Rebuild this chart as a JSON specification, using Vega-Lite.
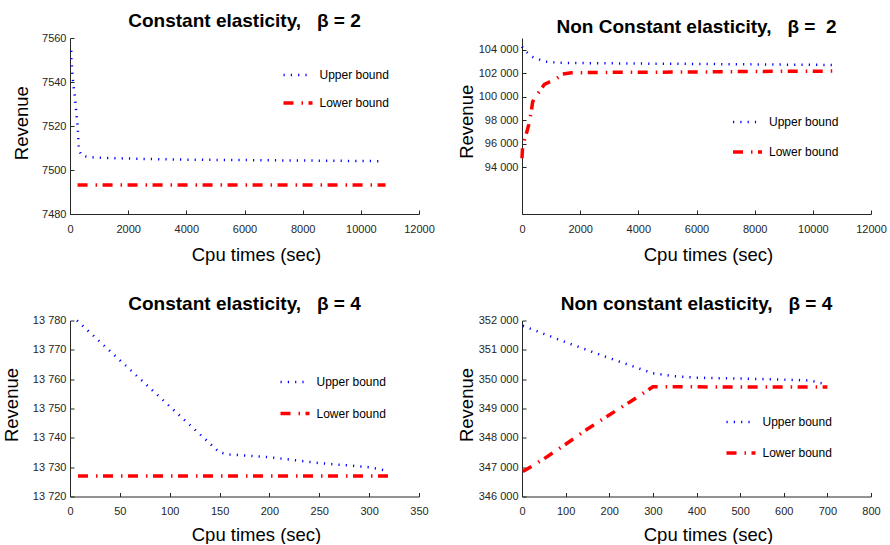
{
  "$schema": "https://vega.github.io/schema/vega-lite/v6.json",
  "padding": {"left": 2, "top": 12, "right": 0, "bottom": 0},
  "bounds": "flush",
  "spacing": {"row": 106.5, "column": 103},
  "columns": 2,
  "config": {
    "font": "Liberation Sans",
    "view": {"stroke": null},
    "axis": {
      "grid": false,
      "domainColor": "#262626",
      "tickColor": "#262626",
      "labelColor": "#262626",
      "labelFontSize": 11,
      "labelFont": "Liberation Sans",
      "titleFont": "Liberation Sans",
      "titleFontSize": 18.5,
      "titleFontWeight": "normal",
      "titleColor": "#000000",
      "tickSize": -4,
      "labelFlush": false,
      "labelOverlap": false
    },
    "axisX": {"labelPadding": 13, "titleBaseline": "alphabetic", "titleX": 186},
    "axisY": {"labelPadding": 8, "titleBaseline": "alphabetic", "titleAngle": 270, "titleY": 84},
    "title": {"font": "Liberation Sans", "fontSize": 19, "fontWeight": "bold", "color": "#000000", "baseline": "alphabetic", "offset": 1},
    "legend": {"title": null, "orient": "none", "symbolType": "stroke", "symbolSize": 841, "labelFontSize": 12, "labelFont": "Liberation Sans", "labelColor": "#000000", "labelOffset": 5, "padding": 0, "clipHeight": 16}
  },
  "resolve": {"scale": {"color": "independent", "strokeDash": "independent", "strokeWidth": "independent", "x": "independent", "y": "independent"}},
  "datasets": {
    "p1": [
      {"t": 40, "rev": 7554.2, "series": "Upper bound"},
      {"t": 42, "rev": 7551.2, "series": "Upper bound"},
      {"t": 62, "rev": 7548, "series": "Upper bound"},
      {"t": 76, "rev": 7544.7, "series": "Upper bound"},
      {"t": 96, "rev": 7541.4, "series": "Upper bound"},
      {"t": 120, "rev": 7538.2, "series": "Upper bound"},
      {"t": 155, "rev": 7535, "series": "Upper bound"},
      {"t": 179, "rev": 7531.7, "series": "Upper bound"},
      {"t": 199, "rev": 7528.5, "series": "Upper bound"},
      {"t": 223, "rev": 7525, "series": "Upper bound"},
      {"t": 248, "rev": 7522, "series": "Upper bound"},
      {"t": 268, "rev": 7518.6, "series": "Upper bound"},
      {"t": 282, "rev": 7515.5, "series": "Upper bound"},
      {"t": 292, "rev": 7512, "series": "Upper bound"},
      {"t": 302, "rev": 7509, "series": "Upper bound"},
      {"t": 420, "rev": 7506.4, "series": "Upper bound"},
      {"t": 700, "rev": 7505.8, "series": "Upper bound"},
      {"t": 1000, "rev": 7505.6, "series": "Upper bound"},
      {"t": 2000, "rev": 7505.2, "series": "Upper bound"},
      {"t": 3000, "rev": 7504.9, "series": "Upper bound"},
      {"t": 4000, "rev": 7504.7, "series": "Upper bound"},
      {"t": 5000, "rev": 7504.6, "series": "Upper bound"},
      {"t": 6000, "rev": 7504.5, "series": "Upper bound"},
      {"t": 7000, "rev": 7504.4, "series": "Upper bound"},
      {"t": 8000, "rev": 7504.3, "series": "Upper bound"},
      {"t": 9000, "rev": 7504.2, "series": "Upper bound"},
      {"t": 10000, "rev": 7504.1, "series": "Upper bound"},
      {"t": 10800, "rev": 7504, "series": "Upper bound"},
      {"t": 260, "rev": 7493.2, "series": "Lower bound"},
      {"t": 10850, "rev": 7493.2, "series": "Lower bound"}
    ],
    "p2": [
      {"t": 0, "rev": 104260, "series": "Upper bound"},
      {"t": 50, "rev": 104040, "series": "Upper bound"},
      {"t": 350, "rev": 103400, "series": "Upper bound"},
      {"t": 570, "rev": 103180, "series": "Upper bound"},
      {"t": 800, "rev": 102980, "series": "Upper bound"},
      {"t": 1050, "rev": 102930, "series": "Upper bound"},
      {"t": 1500, "rev": 102880, "series": "Upper bound"},
      {"t": 2500, "rev": 102850, "series": "Upper bound"},
      {"t": 4000, "rev": 102820, "series": "Upper bound"},
      {"t": 6000, "rev": 102790, "series": "Upper bound"},
      {"t": 8000, "rev": 102750, "series": "Upper bound"},
      {"t": 10700, "rev": 102700, "series": "Upper bound"},
      {"t": 0, "rev": 94750, "series": "Lower bound"},
      {"t": 20, "rev": 95700, "series": "Lower bound"},
      {"t": 80, "rev": 96300, "series": "Lower bound"},
      {"t": 140, "rev": 96750, "series": "Lower bound"},
      {"t": 230, "rev": 97600, "series": "Lower bound"},
      {"t": 310, "rev": 98600, "series": "Lower bound"},
      {"t": 365, "rev": 99550, "series": "Lower bound"},
      {"t": 460, "rev": 100000, "series": "Lower bound"},
      {"t": 600, "rev": 100450, "series": "Lower bound"},
      {"t": 770, "rev": 101050, "series": "Lower bound"},
      {"t": 940, "rev": 101250, "series": "Lower bound"},
      {"t": 1170, "rev": 101500, "series": "Lower bound"},
      {"t": 1400, "rev": 101930, "series": "Lower bound"},
      {"t": 1700, "rev": 102040, "series": "Lower bound"},
      {"t": 3000, "rev": 102070, "series": "Lower bound"},
      {"t": 6000, "rev": 102100, "series": "Lower bound"},
      {"t": 8000, "rev": 102150, "series": "Lower bound"},
      {"t": 10700, "rev": 102180, "series": "Lower bound"}
    ],
    "p3": [
      {"t": 7, "rev": 13780, "series": "Upper bound"},
      {"t": 150, "rev": 13735, "series": "Upper bound"},
      {"t": 160, "rev": 13734.3, "series": "Upper bound"},
      {"t": 200, "rev": 13733.4, "series": "Upper bound"},
      {"t": 250, "rev": 13731.4, "series": "Upper bound"},
      {"t": 300, "rev": 13730, "series": "Upper bound"},
      {"t": 315, "rev": 13729, "series": "Upper bound"},
      {"t": 8, "rev": 13727, "series": "Lower bound"},
      {"t": 319, "rev": 13727, "series": "Lower bound"}
    ],
    "p4": [
      {"t": 2, "rev": 351820, "series": "Upper bound"},
      {"t": 100, "rev": 351260, "series": "Upper bound"},
      {"t": 200, "rev": 350720, "series": "Upper bound"},
      {"t": 300, "rev": 350200, "series": "Upper bound"},
      {"t": 350, "rev": 350100, "series": "Upper bound"},
      {"t": 400, "rev": 350050, "series": "Upper bound"},
      {"t": 500, "rev": 350020, "series": "Upper bound"},
      {"t": 600, "rev": 349985, "series": "Upper bound"},
      {"t": 660, "rev": 349955, "series": "Upper bound"},
      {"t": 690, "rev": 349850, "series": "Upper bound"},
      {"t": 2, "rev": 346850, "series": "Lower bound"},
      {"t": 50, "rev": 347280, "series": "Lower bound"},
      {"t": 100, "rev": 347780, "series": "Lower bound"},
      {"t": 150, "rev": 348300, "series": "Lower bound"},
      {"t": 200, "rev": 348780, "series": "Lower bound"},
      {"t": 250, "rev": 349250, "series": "Lower bound"},
      {"t": 300, "rev": 349740, "series": "Lower bound"},
      {"t": 700, "rev": 349730, "series": "Lower bound"}
    ]
  },
  "concat": [
    {
      "width": 349, "height": 176,
      "title": "Constant elasticity,\u00a0\u00a0\u00a0β = 2",
      "data": {"name": "p1"},
      "mark": {"type": "line", "strokeCap": "butt"},
      "encoding": {
        "x": {"field": "t", "type": "quantitative", "scale": {"domain": [0, 12000], "nice": false}, "axis": {"title": "Cpu times (sec)", "values": [0, 2000, 4000, 6000, 8000, 10000, 12000], "format": "d", "titleY": 46}},
        "y": {"field": "rev", "type": "quantitative", "scale": {"domain": [7480, 7560], "nice": false, "zero": false}, "axis": {"title": "Revenue", "values": [7480, 7500, 7520, 7540, 7560], "format": "d", "titleX": -42.5, "titleY": 84.7}},
        "color": {"field": "series", "type": "nominal", "scale": {"domain": ["Upper bound", "Lower bound"], "range": ["#0000ff", "#ff0000"]}, "legend": {"legendX": 211.5, "legendY": 29, "rowPadding": 12}},
        "strokeDash": {"field": "series", "type": "nominal", "scale": {"domain": ["Upper bound", "Lower bound"], "range": [[1.2, 6.1], [10, 8, 1.5, 5.5]]}, "legend": {"legendX": 211.5, "legendY": 29, "rowPadding": 12}},
        "strokeWidth": {"field": "series", "type": "ordinal", "scale": {"domain": ["Upper bound", "Lower bound"], "range": [2.5, 3.5]}, "legend": {"legendX": 211.5, "legendY": 29, "rowPadding": 12}}
      }
    },
    {
      "width": 349, "height": 176,
      "title": "Non Constant elasticity,\u00a0\u00a0\u00a0β =\u00a0\u00a02",
      "data": {"name": "p2"},
      "mark": {"type": "line", "strokeCap": "butt"},
      "encoding": {
        "x": {"field": "t", "type": "quantitative", "scale": {"domain": [0, 12000], "nice": false}, "axis": {"title": "Cpu times (sec)", "values": [0, 2000, 4000, 6000, 8000, 10000, 12000], "format": "d", "titleY": 46}},
        "y": {"field": "rev", "type": "quantitative", "scale": {"domain": [90000, 105000], "nice": false, "zero": false}, "axis": {"title": "Revenue", "values": [94000, 96000, 98000, 100000, 102000, 104000], "labelExpr": "replace(format(datum.value, ','), ',', ' ')", "titleX": -50, "titleY": 83.3}},
        "color": {"field": "series", "type": "nominal", "scale": {"domain": ["Upper bound", "Lower bound"], "range": ["#0000ff", "#ff0000"]}, "legend": {"legendX": 209, "legendY": 76, "rowPadding": 14}},
        "strokeDash": {"field": "series", "type": "nominal", "scale": {"domain": ["Upper bound", "Lower bound"], "range": [[1.2, 6.1], [10, 8, 1.5, 5.5]]}, "legend": {"legendX": 209, "legendY": 76, "rowPadding": 14}},
        "strokeWidth": {"field": "series", "type": "ordinal", "scale": {"domain": ["Upper bound", "Lower bound"], "range": [2.5, 3.5]}, "legend": {"legendX": 209, "legendY": 76, "rowPadding": 14}}
      }
    },
    {
      "width": 349, "height": 176,
      "title": "Constant elasticity,\u00a0\u00a0\u00a0β = 4",
      "data": {"name": "p3"},
      "mark": {"type": "line", "strokeCap": "butt"},
      "encoding": {
        "x": {"field": "t", "type": "quantitative", "scale": {"domain": [0, 350], "nice": false}, "axis": {"title": "Cpu times (sec)", "values": [0, 50, 100, 150, 200, 250, 300, 350], "format": "d", "titleY": 44}},
        "y": {"field": "rev", "type": "quantitative", "scale": {"domain": [13720, 13780], "nice": false, "zero": false}, "axis": {"title": "Revenue", "values": [13720, 13730, 13740, 13750, 13760, 13770, 13780], "labelExpr": "replace(format(datum.value, ','), ',', ' ')", "titleX": -52.5, "titleY": 84}},
        "color": {"field": "series", "type": "nominal", "scale": {"domain": ["Upper bound", "Lower bound"], "range": ["#0000ff", "#ff0000"]}, "legend": {"legendX": 208.5, "legendY": 53.5, "rowPadding": 15.5}},
        "strokeDash": {"field": "series", "type": "nominal", "scale": {"domain": ["Upper bound", "Lower bound"], "range": [[1.2, 6.1], [10, 8, 1.5, 5.5]]}, "legend": {"legendX": 208.5, "legendY": 53.5, "rowPadding": 15.5}},
        "strokeWidth": {"field": "series", "type": "ordinal", "scale": {"domain": ["Upper bound", "Lower bound"], "range": [2.5, 3.5]}, "legend": {"legendX": 208.5, "legendY": 53.5, "rowPadding": 15.5}}
      }
    },
    {
      "width": 349, "height": 176,
      "title": "Non constant elasticity,\u00a0\u00a0\u00a0β = 4",
      "data": {"name": "p4"},
      "mark": {"type": "line", "strokeCap": "butt"},
      "encoding": {
        "x": {"field": "t", "type": "quantitative", "scale": {"domain": [0, 800], "nice": false}, "axis": {"title": "Cpu times (sec)", "values": [0, 100, 200, 300, 400, 500, 600, 700, 800], "format": "d", "titleY": 44}},
        "y": {"field": "rev", "type": "quantitative", "scale": {"domain": [346000, 352000], "nice": false, "zero": false}, "axis": {"title": "Revenue", "values": [346000, 347000, 348000, 349000, 350000, 351000, 352000], "labelExpr": "replace(format(datum.value, ','), ',', ' ')", "titleX": -50, "titleY": 84}},
        "color": {"field": "series", "type": "nominal", "scale": {"domain": ["Upper bound", "Lower bound"], "range": ["#0000ff", "#ff0000"]}, "legend": {"legendX": 202.5, "legendY": 93.5, "rowPadding": 15}},
        "strokeDash": {"field": "series", "type": "nominal", "scale": {"domain": ["Upper bound", "Lower bound"], "range": [[1.2, 6.1], [10, 8, 1.5, 5.5]]}, "legend": {"legendX": 202.5, "legendY": 93.5, "rowPadding": 15}},
        "strokeWidth": {"field": "series", "type": "ordinal", "scale": {"domain": ["Upper bound", "Lower bound"], "range": [2.5, 3.5]}, "legend": {"legendX": 202.5, "legendY": 93.5, "rowPadding": 15}}
      }
    }
  ]
}
